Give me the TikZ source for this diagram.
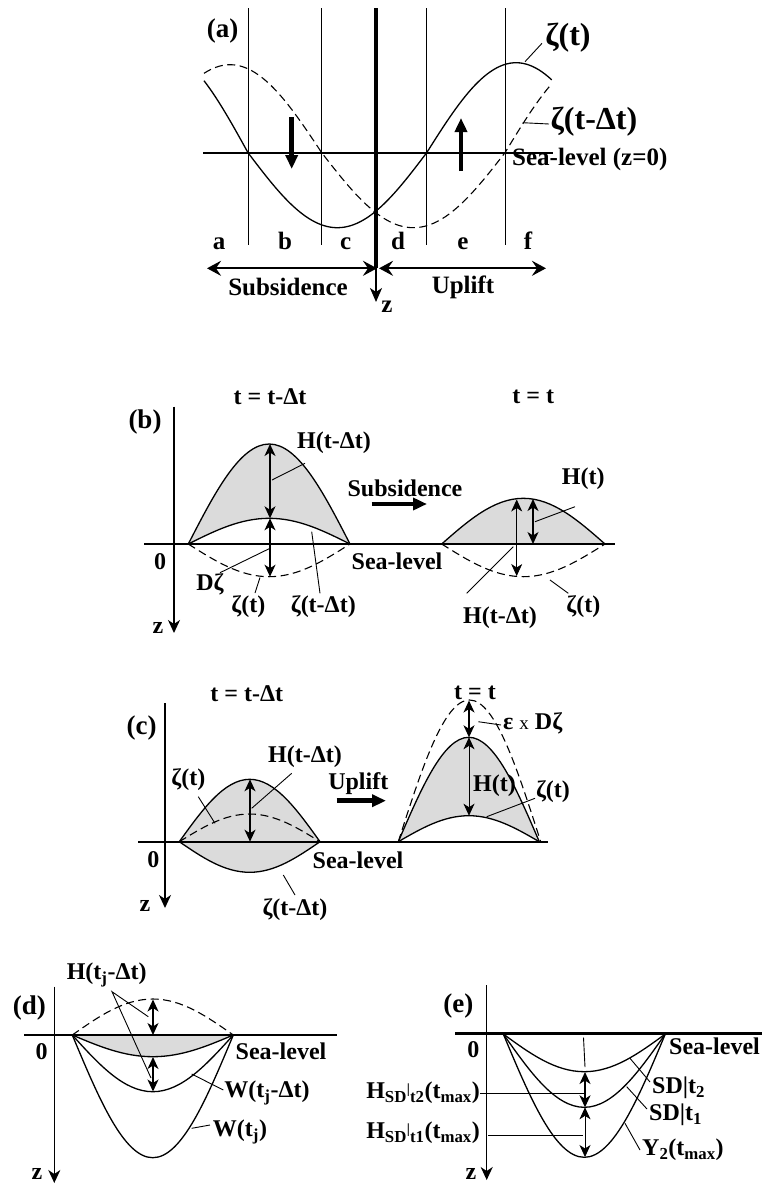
\documentclass[tikz,border=0pt]{standalone}
\usepackage{fontspec}
\setmainfont{Liberation Serif}
\usetikzlibrary{arrows.meta}
\begin{document}
\begin{tikzpicture}[x=1pt,y=-1pt,
  lab/.style={font=\fontsize{24}{24}\selectfont\bfseries, inner sep=0pt},
  alab/.style={font=\fontsize{25}{25}\selectfont\bfseries, inner sep=0pt},
  plab/.style={font=\fontsize{27}{27}\selectfont\bfseries, inner sep=0pt},
  biglab/.style={font=\fontsize{32}{32}\selectfont\bfseries, inner sep=0pt},
  curve/.style={line width=1.3pt},
  dcurve/.style={line width=1.1pt, dash pattern=on 8pt off 4.5pt},
  sea/.style={line width=1.8pt},
  thinv/.style={line width=0.8pt},
  leader/.style={line width=0.9pt},
  fillg/.style={fill=black!14},
  axis/.style={line width=1.5pt, -{Stealth[length=13pt,width=12pt,inset=4pt]}},
  dbl/.style={line width=1.5pt, {Stealth[length=12pt,width=11pt,inset=3.5pt]}-{Stealth[length=12pt,width=11pt,inset=3.5pt]}},
  tdbl/.style={line width=0.8pt, {Stealth[length=12pt,width=11pt,inset=3.5pt]}-{Stealth[length=12pt,width=11pt,inset=3.5pt]}},
  fat/.style={line width=4.5pt, -{Triangle[length=14pt,width=12pt]}},
  wide/.style={line width=2.2pt, {Stealth[length=14pt,width=15pt,inset=5pt]}-{Stealth[length=14pt,width=15pt,inset=5pt]}},
]
\useasboundingbox (0,0) rectangle (762,1184);

% ================= (a) =================
\foreach \xx in {248.3,321.7,426.7,505} \draw[thinv] (\xx,8) -- (\xx,245);
\draw[line width=4pt] (376,8) -- (376,268);
\coordinate (za1) at (376,266);
\coordinate (za2) at (376,302);
\draw[line width=2pt, -{Stealth[length=14pt,width=12pt,inset=4pt]}] (za1) -- (za2);
\coordinate (sla) at (203,152.7);
\coordinate (slb) at (553,152.7);
\draw[sea] (sla) -- (slb);
% solid zeta(t)
\draw[curve] plot[domain=204:248,samples=30] (\x,{152.7+103*sin((\x-248)/178.7*180)})
  -- plot[domain=248:426.7,samples=60] (\x,{152.7+75*sin((\x-248)/178.7*180)})
  -- plot[domain=426.7:551.7,samples=40] (\x,{152.7+90*sin((\x-248)/178.7*180)});
% dashed zeta(t-dt)
\draw[dcurve] plot[domain=204:321.7,samples=40] (\x,{152.7+88*sin((\x-321.7)/183.3*180)})
  -- plot[domain=321.7:505,samples=60] (\x,{152.7+75*sin((\x-321.7)/183.3*180)})
  -- plot[domain=505:551.7,samples=20] (\x,{152.7+96*sin((\x-321.7)/183.3*180)});
\coordinate (dn1) at (291.7,117); \coordinate (dn2) at (291.7,169);
\coordinate (up1) at (461,171); \coordinate (up2) at (461,118);
\draw[fat] (dn1) -- (dn2);
\draw[fat] (up1) -- (up2);
\node[plab] (la) at (222.7,31) {(a)};
\node[biglab] (zt) at (568,38) {ζ(t)};
\node[biglab] (ztd) at (594,121.7) {ζ(t-Δt)};
\node[alab, anchor=west] (sealev) at (512,159.3) {Sea-level (z=0)};
\coordinate (zt1) at (525,61.7); \coordinate (zt2) at (542,43.3);
\draw[leader] (zt1) -- (zt2);
\coordinate (ztd1) at (522.7,122.7); \coordinate (ztd2) at (549,124);
\draw[leader] (ztd1) -- (ztd2);
\foreach \xx/\ll in {219/a,285/b,345.7/c,398/d,463/e,528/f}
  \node[alab, anchor=base] (let\ll) at (\xx,249.5) {\ll};
\coordinate (sub1) at (377,268.3); \coordinate (sub2) at (207,268.3);
\coordinate (upl1) at (379,268.3); \coordinate (upl2) at (546,268.3);
\draw[wide] (sub1) -- (sub2);
\draw[wide] (upl1) -- (upl2);
\node[alab] (subs) at (288,287) {Subsidence};
\node[alab] (upli) at (463,287) {Uplift};
\node[alab] (za) at (387,307) {z};

% ================= (b) =================
\coordinate (bax1) at (174,406.7); \coordinate (bax2) at (174,633);
\draw[axis] (bax1) -- (bax2);
\coordinate (bs1) at (144,544); \coordinate (bs2) at (615,544);
\fill[fillg] (188.3,544) sin (269.2,444) cos (350,544) sin (269.2,518.3) cos (188.3,544) -- cycle;
\fill[fillg] (441.7,544) sin (523.3,498.3) cos (605,544) -- cycle;
\draw[sea] (bs1) -- (bs2);
\draw[curve] (188.3,544) sin (269.2,444) cos (350,544);
\draw[curve] (188.3,544) sin (269.2,518.3) cos (350,544);
\draw[dcurve] (188.3,544) sin (269.2,576.7) cos (350,544);
\draw[curve] (441.7,544) sin (523.3,498.3) cos (605,544);
\draw[dcurve] (441.7,544) sin (523.3,576.7) cos (605,544);
\coordinate (b1) at (270,444); \coordinate (b2) at (270,518.3); \coordinate (b3) at (270,576.7);
\draw[dbl] (b1) -- (b2);
\draw[dbl] (b2) -- (b3);
\coordinate (b4) at (516.7,499.5); \coordinate (b5) at (516.7,576);
\draw[tdbl] (b4) -- (b5);
\coordinate (b6) at (533,499); \coordinate (b7) at (533,544);
\draw[dbl] (b6) -- (b7);
\coordinate (bsa1) at (371.7,504); \coordinate (bsa2) at (427,504);
\draw[fat] (bsa1) -- (bsa2);
\node[lab] (tb1) at (270,396.7) {t = t-Δt};
\node[lab] (tb2) at (533.3,396.7) {t = t};
\node[plab] (lb) at (145,421.7) {(b)};
\node[lab] (b0) at (160,561.7) {0};
\node[lab] (bz) at (158,628) {z};
\node[lab] (bsea) at (397,561.7) {Sea-level};
\node[lab] (bsub) at (405,488.3) {Subsidence};
\node[lab] (bH1) at (334,443) {H(t-Δt)};
\coordinate (bl1a) at (272,480); \coordinate (bl1b) at (305,463.3);
\draw[leader] (bl1a) -- (bl1b);
\node[lab] (bDz) at (210,584) {Dζ};
\coordinate (bl2a) at (220,572.7); \coordinate (bl2b) at (270,548.3);
\draw[leader] (bl2a) -- (bl2b);
\node[lab] (bzt) at (248.3,607) {ζ(t)};
\coordinate (bl3a) at (255,593); \coordinate (bl3b) at (260,577.5);
\draw[leader] (bl3a) -- (bl3b);
\node[lab] (bztd) at (323.3,607) {ζ(t-Δt)};
\coordinate (bl4a) at (320,593.3); \coordinate (bl4b) at (311.7,531.7);
\draw[leader] (bl4a) -- (bl4b);
\node[lab] (bHt) at (583.3,478.3) {H(t)};
\coordinate (bl5a) at (535,521.7); \coordinate (bl5b) at (575,506.7);
\draw[leader] (bl5a) -- (bl5b);
\node[lab] (bH2) at (500,617.3) {H(t-Δt)};
\coordinate (bl6a) at (466.7,593.3); \coordinate (bl6b) at (513.3,546.7);
\draw[leader] (bl6a) -- (bl6b);
\node[lab] (bzt2) at (583.3,607) {ζ(t)};
\coordinate (bl7a) at (550,580); \coordinate (bl7b) at (568.3,593.3);
\draw[leader] (bl7a) -- (bl7b);

% ================= (c) =================
\coordinate (cax1) at (165,703.3); \coordinate (cax2) at (165,908);
\draw[axis] (cax1) -- (cax2);
\coordinate (cs1) at (138.3,841.7); \coordinate (cs2) at (548.3,841.7);
\fill[fillg] (179.3,841.7) sin (249.7,779.3) cos (320,841.7) sin (249.7,872.3) cos (179.3,841.7) -- cycle;
\fill[fillg] (398.3,841.7) sin (468.8,737.3) cos (539.3,841.7) sin (468.8,815.7) cos (398.3,841.7) -- cycle;
\draw[sea] (cs1) -- (cs2);
\draw[curve] (179.3,841.7) sin (249.7,779.3) cos (320,841.7);
\draw[curve] (179.3,841.7) sin (249.7,872.3) cos (320,841.7);
\draw[dcurve] (179.3,841.7) sin (249.7,814) cos (320,841.7);
\draw[curve] (398.3,841.7) sin (468.8,737.3) cos (539.3,841.7);
\draw[curve] (398.3,841.7) sin (468.8,815.7) cos (539.3,841.7);
\draw[dcurve] (398.3,841.7) sin (469.5,700) cos (540.7,841.7);
\coordinate (c1) at (250,779.3); \coordinate (c2) at (250,841.7);
\draw[dbl] (c1) -- (c2);
\coordinate (c3) at (469,700.5); \coordinate (c4) at (469,737.3); \coordinate (c5) at (469,815.7);
\draw[dbl] (c3) -- (c4);
\draw[tdbl] (c4) -- (c5);
\coordinate (cua1) at (336.7,800.7); \coordinate (cua2) at (386,800.7);
\draw[fat] (cua1) -- (cua2);
\node[lab] (tc1) at (246.7,693.3) {t = t-Δt};
\node[lab] (tc2) at (475,693.3) {t = t};
\node[plab] (lc) at (141.7,728.3) {(c)};
\node[lab] (c0) at (153.3,860) {0};
\node[lab] (cz) at (145,906) {z};
\node[lab] (csea) at (358,860) {Sea-level};
\node[lab] (cupl) at (358.3,783.3) {Uplift};
\node[lab] (cH1) at (305,756.7) {H(t-Δt)};
\coordinate (cl1a) at (251.7,808.3); \coordinate (cl1b) at (291.7,773.3);
\draw[leader] (cl1a) -- (cl1b);
\node[lab] (czt) at (188.3,780) {ζ(t)};
\coordinate (cl2a) at (198.3,796.7); \coordinate (cl2b) at (215,823.3);
\draw[leader] (cl2a) -- (cl2b);
\node[lab] (cztd) at (295,910) {ζ(t-Δt)};
\coordinate (cl3a) at (283.3,875); \coordinate (cl3b) at (295,895);
\draw[leader] (cl3a) -- (cl3b);
\node[lab, anchor=west] (ceps) at (503,723.3) {ε {\mdseries\fontsize{19}{19}\selectfont x} Dζ};
\coordinate (cl4a) at (478.3,721.7); \coordinate (cl4b) at (501,725);
\draw[leader] (cl4a) -- (cl4b);
\node[lab, anchor=west] (cHt) at (473,786) {H(t)};
\node[lab] (czt2) at (553,791.7) {ζ(t)};
\coordinate (cl5a) at (486.7,816.7); \coordinate (cl5b) at (535,798.3);
\draw[leader] (cl5a) -- (cl5b);

% ================= (d) =================
\coordinate (dax1) at (54.3,986.7); \coordinate (dax2) at (54.3,1183);
\draw[axis] (dax1) -- (dax2);
\coordinate (ds1) at (24,1035); \coordinate (ds2) at (336.7,1035);
\fill[fillg] (72.3,1035) sin (152.8,1056.7) cos (233.3,1035) -- cycle;
\draw[sea] (ds1) -- (ds2);
\draw[dcurve] (72.3,1035) sin (152.8,999) cos (233.3,1035);
\draw[curve] (72.3,1035) sin (152.8,1056.7) cos (233.3,1035);
\draw[curve] (72.3,1035) sin (152.8,1091.7) cos (233.3,1035);
\draw[curve] (72.3,1035) sin (152.8,1157.7) cos (233.3,1035);
\coordinate (d1) at (153,999.5); \coordinate (d2) at (153,1035);
\coordinate (d3) at (153,1057); \coordinate (d4) at (153,1091.5);
\draw[dbl] (d1) -- (d2);
\draw[dbl] (d3) -- (d4);
\node[plab] (ld) at (29.3,1008.3) {(d)};
\node[lab] (d0) at (41.7,1051.7) {0};
\node[lab] (dz) at (37,1174) {z};
\node[lab] (dH) at (106.7,975) {H(t\textsubscript{j}-Δt)};
\coordinate (dl0) at (112,991.7);
\coordinate (dl1) at (148.3,1016.7); \coordinate (dl2) at (151,1078);
\draw[leader] (dl1) -- (dl0) -- (dl2);
\node[lab] (dsea) at (281,1051.7) {Sea-level};
\node[lab] (dW1) at (267,1093.3) {W(t\textsubscript{j}-Δt)};
\coordinate (dl3a) at (191.7,1074); \coordinate (dl3b) at (223.3,1090);
\draw[leader] (dl3a) -- (dl3b);
\node[lab] (dW2) at (240,1131.7) {W(t\textsubscript{j})};
\coordinate (dl4a) at (191.7,1128.3); \coordinate (dl4b) at (210,1125);
\draw[leader] (dl4a) -- (dl4b);

% ================= (e) =================
\coordinate (eax1) at (486.7,985); \coordinate (eax2) at (486.7,1180);
\draw[axis] (eax1) -- (eax2);
\coordinate (es1) at (455,1033.3); \coordinate (es2) at (762,1033.3);
\draw[line width=2.6pt] (es1) -- (es2);
\draw[curve] (503.3,1034) sin (584.3,1071.7) cos (665.3,1034);
\draw[curve] (503.3,1034) sin (584.3,1107.3) cos (665.3,1034);
\draw[curve] (503.3,1034) sin (584.3,1157.3) cos (665.3,1034);
\coordinate (ev1) at (583.5,1037.5); \coordinate (ev2) at (585,1067);
\draw[leader] (ev1) -- (ev2);
\coordinate (e1) at (585,1072); \coordinate (e2) at (585,1107.3); \coordinate (e3) at (585,1157);
\draw[dbl] (e1) -- (e2);
\draw[tdbl] (e2) -- (e3);
\coordinate (eh1a) at (480,1093.3); \coordinate (eh1b) at (585,1093.3);
\coordinate (eh2a) at (488.3,1135); \coordinate (eh2b) at (583,1135);
\draw[leader] (eh1a) -- (eh1b);
\draw[leader] (eh2a) -- (eh2b);
\node[plab] (le) at (458.3,1006) {(e)};
\node[lab] (e0) at (473.3,1050) {0};
\node[lab] (ez) at (471,1174) {z};
\node[lab, anchor=west] (esea) at (669,1046) {Sea-level};
\node[lab, anchor=east] (eH2) at (480,1093) {H\textsubscript{SD}\raisebox{5pt}{\fontsize{14}{14}\selectfont |}\textsubscript{t2}(t\textsubscript{max})};
\node[lab, anchor=east] (eH1) at (480,1133) {H\textsubscript{SD}\raisebox{5pt}{\fontsize{14}{14}\selectfont |}\textsubscript{t1}(t\textsubscript{max})};
\node[lab, anchor=west] (eSD2) at (652,1088) {SD|t\textsubscript{2}};
\coordinate (el1a) at (630,1058.3); \coordinate (el1b) at (650,1082);
\draw[leader] (el1a) -- (el1b);
\node[lab, anchor=west] (eSD1) at (649,1115) {SD|t\textsubscript{1}};
\coordinate (el2a) at (626.7,1086.7); \coordinate (el2b) at (647,1109);
\draw[leader] (el2a) -- (el2b);
\node[lab, anchor=west] (eY) at (642,1150) {Y\textsubscript{2}(t\textsubscript{max})};
\coordinate (el3a) at (625,1123.3); \coordinate (el3b) at (640,1150);
\draw[leader] (el3a) -- (el3b);
\end{tikzpicture}
\end{document}
